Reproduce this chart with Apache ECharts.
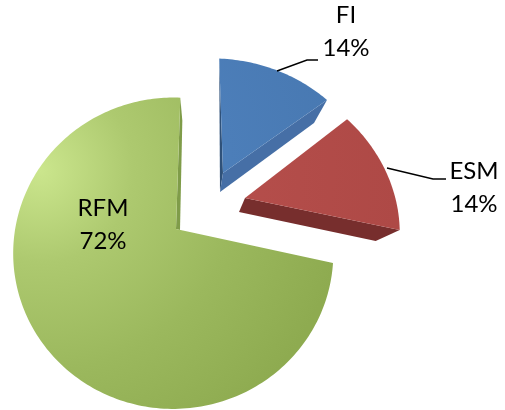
<!DOCTYPE html>
<html>
<head>
<meta charset="utf-8">
<style>html,body{margin:0;padding:0;background:#fff}#c{width:505px;height:410px}</style>
<script src="https://cdn.jsdelivr.net/npm/echarts@6/dist/echarts.min.js"></script>
</head>
<body>
<div id="c"></div>
<script>
var categories = ['FI', 'ESM', 'RFM'];
var shares = [14, 14, 72];

// Drawing geometry of the tilted, exploded pie (not data)
var tilt = {A: 150.3, B: 158, k: 0.156, m: 0.012, e: 5};
var look = {
  FI: {
    apex: [223, 173], sx: 0.97, sy: 0.88, c: -4.5, z: 2,
    fill: {type: 'radial', x: 60, y: 170, r: 340, global: true,
      colorStops: [{offset: 0, color: '#5286C4'}, {offset: 1, color: '#4676AE'}]},
    faces: [
      {at: 0, rim: [0, 0], apexShift: [-3, 19], color: '#2F5179'},
      {at: 1, rim: [-13, 23], apexShift: [-3, 19], color: '#466FA6'}
    ],
    labelPos: [346, 32], leader: [[277, 71], [307, 60], [318, 60]]
  },
  ESM: {
    apex: [245, 198], sx: 0.97, sy: 0.95, c: -8, z: 2,
    fill: {type: 'radial', x: 60, y: 170, r: 340, global: true,
      colorStops: [{offset: 0, color: '#BC5350'}, {offset: 1, color: '#AE4946'}]},
    faces: [{at: 1, rim: [-24, 11], apexShift: [-6, 14], color: '#772E2D'}],
    labelPos: [474, 188], leader: [[387, 168], [433, 179], [446, 179]]
  },
  RFM: {
    apex: [176, 229], sx: 1, sy: 1.01, c: 5, z: 1,
    fill: {type: 'radial', x: 40, y: 170, r: 310, global: true,
      colorStops: [
        {offset: 0, color: '#CBE68D'},
        {offset: 0.3, color: '#ADC96F'},
        {offset: 0.65, color: '#9BB85D'},
        {offset: 1, color: '#8EAB50'}]},
    faces: [{at: 1, rim: [2, 23], apexShift: [4, 1], color: '#7F9C49'}],
    labelPos: [103, 225], leader: null
  }
};

var total = shares.reduce(function (a, b) { return a + b; }, 0);

function project(g, theta) {
  var s = Math.sin(theta), co = Math.cos(theta);
  var w = 1 + tilt.k * co + tilt.m * s;
  return [
    g.apex[0] + g.sx * (tilt.B * s + g.c * co) / w,
    g.apex[1] + g.sy * (tilt.e * s - tilt.A * co) / w
  ];
}

function renderSlice(params, api) {
  var i = params.dataIndex;
  var name = categories[i];
  var g = look[name];
  var before = 0;
  for (var j = 0; j < i; j++) before += shares[j];
  var a0 = before / total * Math.PI * 2;
  var a1 = (before + api.value(0)) / total * Math.PI * 2;

  var pts = [g.apex.slice()];
  var steps = Math.ceil((a1 - a0) / 0.02);
  for (var n = 0; n <= steps; n++) pts.push(project(g, a0 + (a1 - a0) * n / steps));

  var children = [];
  g.faces.forEach(function (f) {
    var r = project(g, f.at ? a1 : a0);
    var ap = g.apex;
    children.push({
      type: 'polygon',
      shape: {points: [r, [r[0] + f.rim[0], r[1] + f.rim[1]],
        [ap[0] + f.apexShift[0], ap[1] + f.apexShift[1]], ap]},
      style: {fill: f.color}
    });
  });
  children.push({type: 'polygon', shape: {points: pts}, style: {fill: g.fill}});
  if (g.leader) {
    children.push({
      type: 'polyline', shape: {points: g.leader},
      style: {stroke: '#000', lineWidth: 1.4, fill: 'none'}
    });
  }
  children.push({
    type: 'text',
    x: g.labelPos[0], y: g.labelPos[1],
    style: {
      text: name + '\n' + api.value(0) + '%',
      fill: '#000', font: '24px Lato', lineHeight: 33,
      align: 'center', verticalAlign: 'middle'
    }
  });
  return {type: 'group', children: children};
}

var chart = echarts.init(document.getElementById('c'), null, {renderer: 'canvas'});
chart.setOption({
  animation: false,
  backgroundColor: '#fff',
  series: [{
    type: 'custom',
    coordinateSystem: 'none',
    silent: true,
    renderItem: renderSlice,
    data: shares.map(function (v, i) { return {name: categories[i], value: [v]}; })
  }]
});
</script>
</body>
</html>
